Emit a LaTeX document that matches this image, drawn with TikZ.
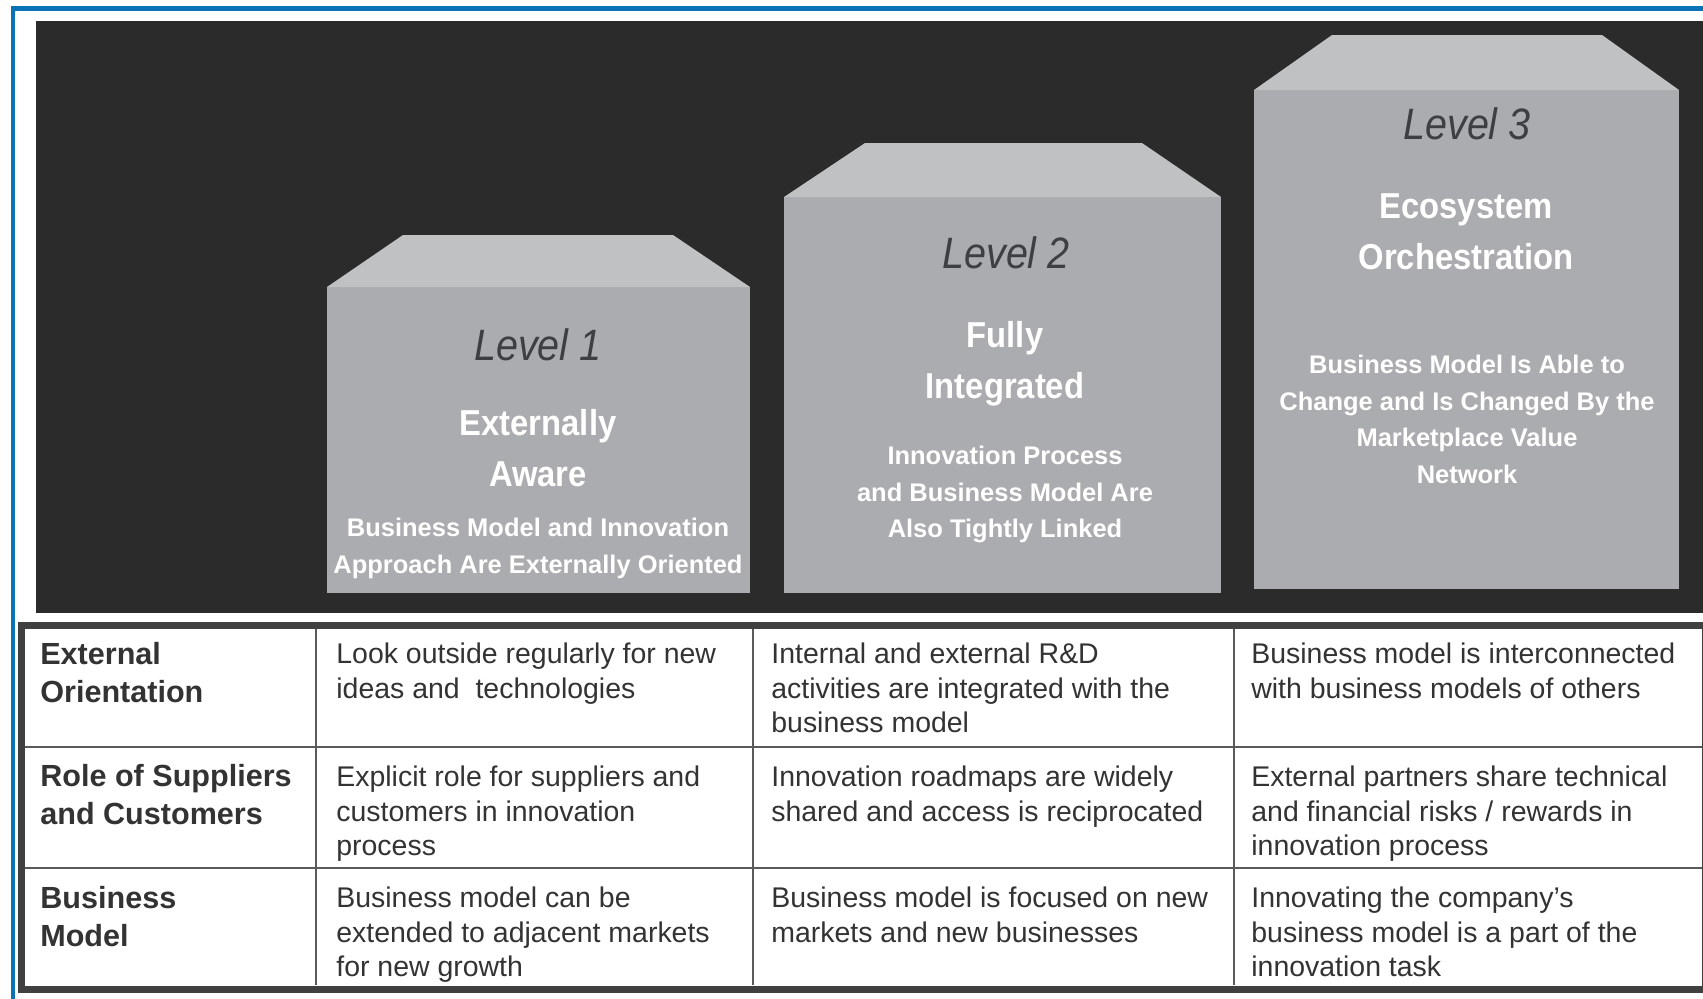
\documentclass[tikz,border=0pt]{standalone}
\usepackage{fontspec}
\setmainfont{Liberation Sans}
\newfontfamily\levelfont[FakeStretch=0.9]{Liberation Sans}
\newfontfamily\stagefont[FakeStretch=0.91]{Liberation Sans}
\usepackage{xcolor}
\usepackage{tikz}

\definecolor{frameblue}{HTML}{0B72B5}
\definecolor{stage}{HTML}{2B2B2B}
\definecolor{frontface}{HTML}{ABACAF}
\definecolor{topface}{HTML}{C0C1C3}
\definecolor{levelgray}{HTML}{3E3F42}
\definecolor{tableedge}{HTML}{404040}
\definecolor{tablerule}{HTML}{5A5A5A}
\definecolor{celltext}{HTML}{333333}

\tikzset{
  levelname/.style={anchor=base, inner sep=0pt, text=levelgray, font=\levelfont\itshape\fontsize{25}{30}\selectfont},
  stagename/.style={anchor=north, inner sep=0pt, align=center, text=white, font=\stagefont\bfseries\fontsize{20.5}{29.3}\selectfont, execute at begin node=\strut},
  stagenote/.style={anchor=north, inner sep=0pt, align=center, text=white, font=\bfseries\fontsize{14.5}{20.8}\selectfont, execute at begin node=\strut},
  rowhead/.style={anchor=north west, inner sep=0pt, align=left, text=celltext, font=\bfseries\fontsize{17.4}{21.8}\selectfont, execute at begin node=\strut},
  cell/.style={anchor=north west, inner sep=0pt, align=left, text=celltext, font=\fontsize{16.2}{19.4}\selectfont, execute at begin node=\strut}
}

\begin{document}
\begin{tikzpicture}[x=0.02cm, y=-0.02cm]
		\useasboundingbox (0,0) rectangle (1703,998);
		\clip (0,0) rectangle (1703,998);
		\fill[white] (0,0) rectangle (1703,998);
		\draw[frameblue, line width=2.6pt] (13,8.5) rectangle (1760,1060);
		\fill[stage] (36,21) rectangle (1710,613);

		% level 1
		\fill[frontface] (327,287) rectangle (750,593);
		\fill[topface] (327,287) -- (403,235) -- (673,235) -- (750,287) -- cycle;
		\node[levelname] (lvA) at (538,360) {Level 1};
		\node[stagename] (nameA) at (538,409) {Externally\\Aware};
		\node[stagenote] (noteA) at (538,518) {Business Model and Innovation\\Approach Are Externally Oriented};

		% level 2
		\fill[frontface] (784,197) rectangle (1221,593);
		\fill[topface] (784,197) -- (865,143) -- (1142,143) -- (1221,197) -- cycle;
		\node[levelname] (lvB) at (1006,268) {Level 2};
		\node[stagename] (nameB) at (1005,321) {Fully\\Integrated};
		\node[stagenote] (noteB) at (1005,446) {Innovation Process\\and Business Model Are\\Also Tightly Linked};

		% level 3
		\fill[frontface] (1254,90) rectangle (1679,589);
		\fill[topface] (1254,90) -- (1332,35) -- (1602,35) -- (1679,90) -- cycle;
		\node[levelname] (lvC) at (1467,139) {Level 3};
		\node[stagename] (nameC) at (1466,193) {Ecosystem\\Orchestration};
		\node[stagenote] (noteC) at (1467,355) {Business Model Is Able to\\Change and Is Changed By the\\Marketplace Value\\Network};

		% table
		\draw[tablerule, line width=1.1pt] (25,747) -- (1702,747);
		\draw[tablerule, line width=1.1pt] (25,868) -- (1702,868);
		\draw[tablerule, line width=1.1pt] (316,629) -- (316,985);
		\draw[tablerule, line width=1.1pt] (753,629) -- (753,985);
		\draw[tablerule, line width=1.1pt] (1234,629) -- (1234,985);
		\draw[tableedge, line width=4pt] (21.5,625.5) rectangle (1705.5,989);

		\node[rowhead] (headA) at (40,642) {External\\Orientation};
		\node[cell] (cellA1) at (336,643) {Look outside regularly for new\\ideas and \ technologies};
		\node[cell] (cellA2) at (771,643) {Internal and external R\&D\\activities are integrated with the\\business model};
		\node[cell] (cellA3) at (1251,643) {Business model is interconnected\\with business models of others};

		\node[rowhead] (headB) at (40,764) {Role of Suppliers\\and Customers};
		\node[cell] (cellB1) at (336,766) {Explicit role for suppliers and\\customers in innovation\\process};
		\node[cell] (cellB2) at (771,766) {Innovation roadmaps are widely\\shared and access is reciprocated};
		\node[cell] (cellB3) at (1251,766) {External partners share technical\\and financial risks / rewards in\\innovation process};

		\node[rowhead] (headC) at (40,886) {Business\\Model};
		\node[cell] (cellC1) at (336,887) {Business model can be\\extended to adjacent markets\\for new growth};
		\node[cell] (cellC2) at (771,887) {Business model is focused on new\\markets and new businesses};
		\node[cell] (cellC3) at (1251,887) {Innovating the company’s\\business model is a part of the\\innovation task};
	\end{tikzpicture}
\end{document}
